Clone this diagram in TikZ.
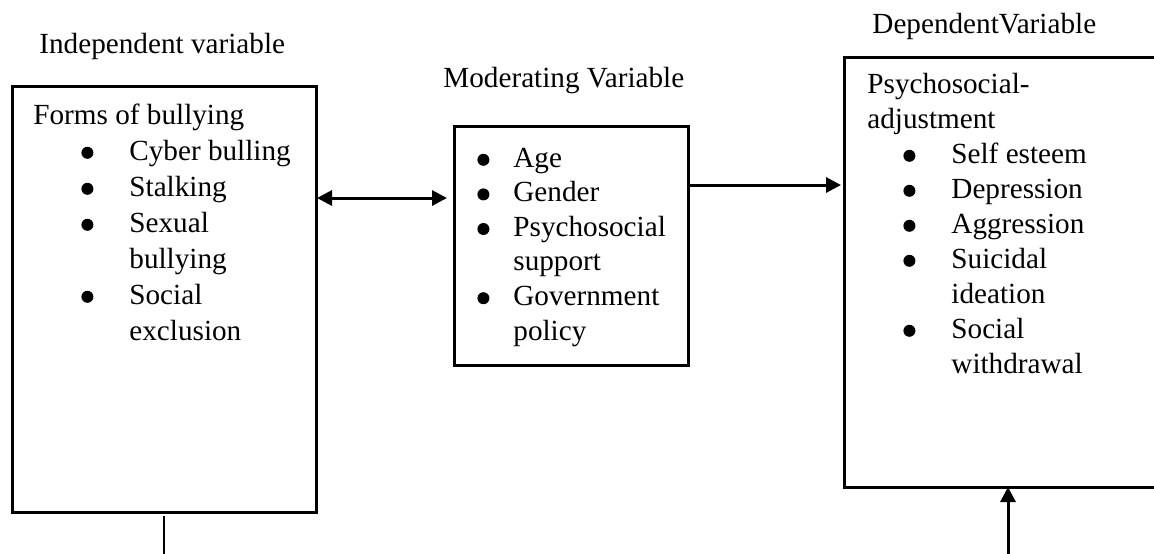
\documentclass[tikz,border=0pt]{standalone}
\usepackage{fontspec}
\setmainfont{Liberation Serif}
\usetikzlibrary{arrows.meta,positioning,calc}

% bullet centred #1 from the line start, item text #2 further on
\newcommand{\itm}[2]{\hspace*{#1}\makebox[0pt][c]{\tikz[x=1pt,y=1pt,baseline=-3.6pt]\fill (0,0) circle[radius=3pt];}\hspace*{#2}}

\begin{document}
\begin{tikzpicture}[x=0.5pt, y=-0.5pt,
  box/.style={draw, line width=1.5pt, inner sep=0pt, outer sep=0pt, anchor=north west},
  txt/.style={inner sep=0pt, anchor=base west, font=\fontsize{14.6}{17.6}\selectfont},
  arr/.style={-{Triangle[length=7.5pt,width=7.5pt]}, line width=1.5pt},
  dbl/.style={{Triangle[length=7.5pt,width=7.5pt]}-{Triangle[length=7.5pt,width=7.5pt]}, line width=1.5pt}
]
  \useasboundingbox (0,0) rectangle (1154,553);
  \clip (0,0) rectangle (1154,553);

  \node[box, minimum width=152pt, minimum height=213pt]   (ind) at (12,86)  {};
  \node[box, minimum width=117pt, minimum height=119.5pt] (mod) at (454,126) {};
  \node[box, minimum width=164pt, minimum height=215pt]   (dep) at (844,57) {};

  \node[txt] (indlbl) at (39,53)  {Independent variable};
  \node[txt] (modlbl) at (443,87) {Moderating Variable};
  \node[txt] (deplbl) at (872,33) {DependentVariable};

  \node[txt, font=\fontsize{14.6}{18}\selectfont] (indlist) at (33,124) {\begin{tabular}[t]{@{}l@{}}
    Forms of bullying\\
    \itm{27pt}{21pt}Cyber bulling\\
    \itm{27pt}{21pt}Stalking\\
    \itm{27pt}{21pt}Sexual\\
    \hspace*{48pt}bullying\\
    \itm{27pt}{21pt}Social\\
    \hspace*{48pt}exclusion
  \end{tabular}};

  \node[txt, font=\fontsize{14.6}{17.3}\selectfont] (modlist) at (478,167) {\begin{tabular}[t]{@{}l@{}}
    \itm{2.5pt}{15pt}Age\\
    \itm{2.5pt}{15pt}Gender\\
    \itm{2.5pt}{15pt}Psychosocial\\
    \hspace*{17.5pt}support\\
    \itm{2.5pt}{15pt}Government\\
    \hspace*{17.5pt}policy
  \end{tabular}};

  \node[txt, font=\fontsize{14.6}{17.5}\selectfont] (deplist) at (867,93) {\begin{tabular}[t]{@{}l@{}}
    Psychosocial-\\
    adjustment\\
    \itm{21pt}{21pt}Self esteem\\
    \itm{21pt}{21pt}Depression\\
    \itm{21pt}{21pt}Aggression\\
    \itm{21pt}{21pt}Suicidal\\
    \hspace*{42pt}ideation\\
    \itm{21pt}{21pt}Social\\
    \hspace*{42pt}withdrawal
  \end{tabular}};

  \coordinate (dblrow) at (0,198);
  \coordinate (arrrow) at (0,185);
  \coordinate (foot)   at (0,560);

  \draw[dbl, shorten <=0.5pt, shorten >=3.5pt] (ind.east |- dblrow) -- (mod.west |- dblrow);
  \draw[arr, shorten >=1.5pt] (mod.east |- arrrow) -- (dep.west |- arrrow);
  \draw[line width=1pt, shorten <=2pt] (ind.south) -- (ind.south |- foot);
  \draw[arr] (dep.south |- foot) -- (dep.south);
\end{tikzpicture}
\end{document}
